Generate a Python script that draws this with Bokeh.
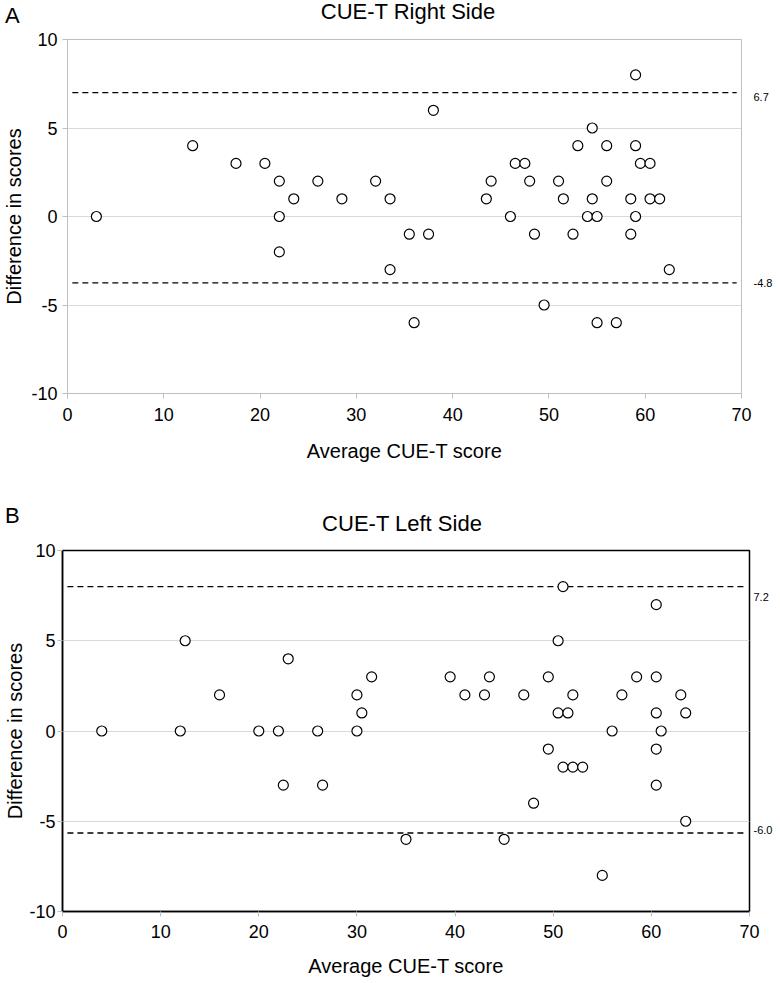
from bokeh.plotting import figure
from bokeh.models import Range1d, FixedTicker, ColumnDataSource, LinearAxis, Div
from bokeh.layouts import column, row
from bokeh.embed import file_html
from bokeh.resources import INLINE

FONT = "Liberation Sans"

# ---------------- data ----------------
x_ticks = [0, 10, 20, 30, 40, 50, 60, 70]
y_ticks = [-10, -5, 0, 5, 10]
y_tick_labels = {-10: "-10", -5: "-5", 0: "0", 5: "5", 10: "10"}

right_avg = [3, 13, 17.5, 20.5, 22, 22, 22, 23.5, 26, 28.5, 32, 33.5, 33.5, 35.5,
             37.5, 38, 36, 43.5, 44, 46, 46.5, 47.5, 48, 48.5, 49.5, 51, 51.5, 52.5,
             53, 54, 54.5, 54.5, 55, 55, 56, 56, 57, 58.5, 58.5, 59, 59, 59, 59.5,
             60.5, 60.5, 61.5, 62.5]
right_diff = [0, 4, 3, 3, 2, 0, -2, 1, 2, 1, 2, 1, -3, -1,
              -1, 6, -6, 1, 2, 0, 3, 3, 2, -1, -5, 2, 1, -1,
              4, 0, 5, 1, 0, -6, 4, 2, -6, 1, -1, 8, 4, 0, 3,
              3, 1, 1, -3]
right_limits = [7.0, -3.75]          # drawn positions of the dashed limit lines
right_limit_labels = ["6.7", "-4.8"]
right_label_y = [6.75, -3.75]

left_avg = [4, 12, 12.5, 16, 20, 22, 22.5, 23, 26, 26.5, 30, 30, 30.5, 31.5, 35,
            39.5, 41, 43, 43.5, 45, 47, 48, 49.5, 49.5, 50.5, 50.5, 51, 51, 51.5,
            52, 52, 53, 55, 56, 57, 58.5, 60.5, 60.5, 60.5, 60.5, 60.5, 61, 63,
            63.5, 63.5]
left_diff = [0, 0, 5, 2, 0, 0, -3, 4, 0, -3, 2, 0, 1, 3, -6,
             3, 2, 2, 3, -6, 2, -4, 3, -1, 5, 1, 8, -2, 1,
             2, -2, -2, -8, 0, 2, 3, 7, 3, 1, -1, -3, 0, 2,
             1, -5]
left_limits = [8.0, -5.65]
left_limit_labels = ["7.2", "-6.0"]
left_label_y = [7.45, -5.5]

W = 778


def header(letter, title, height, letter_top, title_top, title_cx):
    html = (
        f'<div style="position:relative;width:{W}px;height:{height}px;'
        f'font-family:\'{FONT}\';color:black;">'
        f'<span style="position:absolute;left:5px;top:{letter_top}px;'
        f'font-size:22px;line-height:22px;">{letter}</span>'
        f'<span style="position:absolute;left:{title_cx}px;top:{title_top}px;'
        f'transform:translateX(-50%);white-space:nowrap;'
        f'font-size:22px;line-height:22px;">{title}</span>'
        f'</div>'
    )
    return Div(text=html, width=W, height=height, margin=0)


def make_fig(avg, diff, limits, lim_labels, lim_y, height,
             b_left, b_right, b_top, b_bottom, frame_color, frame_width,
             axis_color, y_tick_standoff, y_label_standoff, x_tick_standoff,
             x_label_standoff, right_standoff):
    p = figure(width=W, height=height, output_backend="svg", toolbar_location=None,
               x_range=Range1d(0, 70), y_range=Range1d(-10, 10),
               min_border_left=b_left, min_border_right=b_right,
               min_border_top=b_top, min_border_bottom=b_bottom, margin=0)
    p.background_fill_color = "white"
    p.border_fill_color = "white"
    p.outline_line_color = frame_color
    p.outline_line_width = frame_width

    p.xaxis.ticker = FixedTicker(ticks=x_ticks)
    p.yaxis.ticker = FixedTicker(ticks=y_ticks)
    p.yaxis.major_label_overrides = y_tick_labels
    for ax in (p.xaxis, p.yaxis):
        ax.axis_line_color = axis_color
        ax.axis_line_width = frame_width
        ax.major_tick_line_color = "#bfbfbf"
        ax.major_tick_out = 5
        ax.major_tick_in = 0
        ax.minor_tick_line_color = None
        ax.major_label_text_font = FONT
        ax.major_label_text_font_size = "18px"
        ax.major_label_text_color = "black"
        ax.axis_label_text_font = FONT
        ax.axis_label_text_font_size = "20px"
        ax.axis_label_text_font_style = "normal"
        ax.axis_label_text_color = "black"
    p.xaxis.axis_label = "Average CUE-T score"
    p.yaxis.axis_label = "Difference in scores"
    p.xaxis.major_label_standoff = x_tick_standoff
    p.xaxis.axis_label_standoff = x_label_standoff
    p.yaxis.major_label_standoff = y_tick_standoff
    p.yaxis.axis_label_standoff = y_label_standoff

    # limit labels on the right-hand side
    rax = LinearAxis(ticker=FixedTicker(ticks=lim_y),
                     major_label_overrides=dict(zip(lim_y, lim_labels)),
                     axis_line_color=None, major_tick_line_color=None,
                     minor_tick_line_color=None, major_tick_out=0, major_tick_in=0,
                     major_label_standoff=right_standoff, axis_label_standoff=0,
                     major_label_text_font=FONT, major_label_text_font_size="11px",
                     major_label_text_color="black")
    p.add_layout(rax, "right")

    p.xgrid.visible = False
    p.ygrid.ticker = FixedTicker(ticks=[-5, 0, 5])
    p.ygrid.grid_line_color = "#d9d9d9"
    p.ygrid.grid_line_width = 1

    for lim in limits:
        p.line(x=[0.5, 69.5], y=[lim, lim], line_color="black", line_width=1.3,
               line_dash="6 4")

    src = ColumnDataSource(data=dict(x=avg, y=diff))
    p.scatter("x", "y", source=src, marker="circle", size=10, fill_color="white",
              line_color="black", line_width=1.2)
    return p


h1 = header("A", "CUE-T Right Side", 28, 5, 1, 408)
p1 = make_fig(right_avg, right_diff, right_limits, right_limit_labels, right_label_y,
              height=476, b_left=66, b_right=37, b_top=11, b_bottom=111,
              frame_color="#bfbfbf", frame_width=1, axis_color="#bfbfbf",
              y_tick_standoff=5, y_label_standoff=3,
              x_tick_standoff=9, x_label_standoff=16, right_standoff=12)
h2 = header("B", "CUE-T Left Side", 32, 1, 9, 402)
p2 = make_fig(left_avg, left_diff, left_limits, left_limit_labels, left_label_y,
              height=445, b_left=62, b_right=29, b_top=14, b_bottom=70,
              frame_color="black", frame_width=1.5, axis_color="black",
              y_tick_standoff=2, y_label_standoff=0,
              x_tick_standoff=8, x_label_standoff=14, right_standoff=4)

layout = column(h1, row(p1), h2, row(p2), spacing=0)
open("out.html", "w").write(file_html(layout, INLINE))
